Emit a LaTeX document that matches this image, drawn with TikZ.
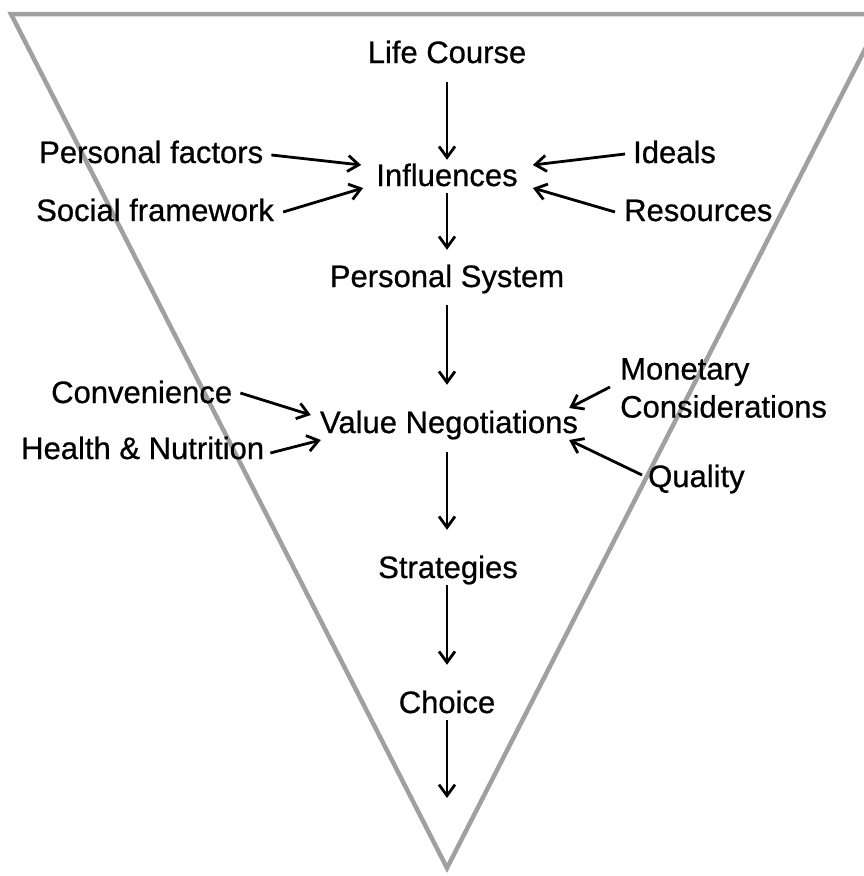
\documentclass[tikz,border=0pt]{standalone}
\usepackage{fontspec}
\setmainfont{Liberation Sans}
\newfontfamily\lblfont{Liberation Sans}[FakeBold=0.7]
\usetikzlibrary{arrows.meta}
\definecolor{trigray}{RGB}{160,160,160}
\tikzset{
  lbl/.style={inner sep=0pt, text height=23pt, text depth=7pt, font=\lblfont\fontsize{31}{38}\selectfont},
  arr/.style={line width=2.8pt, -{Straight Barb[length=11pt,width=16pt]}},
  tri/.style={draw=trigray, line width=4.5pt, line join=miter}
}
\begin{document}
\begin{tikzpicture}[x=1pt,y=-1pt]
\useasboundingbox (0,0) rectangle (864,876);
\begin{scope}
\clip (0,0) rectangle (864,876);
\draw[tri] (11,14) -- (883,14) -- (447,868) -- cycle;
\end{scope}
% nodes
\node[lbl, anchor=base] (lc) at (447,63) {Life Course};
\node[lbl, anchor=base] (inf) at (447,186) {Influences};
\node[lbl, anchor=base west] (pf) at (39,163) {Personal factors};
\node[lbl, anchor=base west] (sf) at (36,221) {Social framework};
\node[lbl, anchor=base west] (id) at (633,163) {Ideals};
\node[lbl, anchor=base west] (rs) at (624,221) {Resources};
\node[lbl, anchor=base] (ps) at (447,287) {Personal System};
\node[lbl, anchor=base] (vn) at (449,433) {Value Negotiations};
\node[lbl, anchor=base west] (cv) at (51,403) {Convenience};
\node[lbl, anchor=base west] (hn) at (21,459) {Health \& Nutrition};
\node[inner sep=0pt, font=\lblfont\fontsize{31}{38}\selectfont, align=left, anchor=west] (mon) at (620,388) {Monetary\\Considerations};
\node[lbl, anchor=base west] (ql) at (648,487) {Quality};
\node[lbl, anchor=base] (st) at (448,578) {Strategies};
\node[lbl, anchor=base] (ch) at (447,713) {Choice};
\coordinate (out) at (447,798);
% vertical arrows
\draw[arr] ([yshift=-12pt]lc.south -| inf.center) -- ([yshift=3pt]inf.north);
\draw[arr] (inf.south) -- ([yshift=14pt]ps.north);
\draw[arr] ([yshift=-11pt]ps.south) -- ([yshift=25pt]vn.north -| ps.center);
\draw[arr] ([yshift=-12pt]vn.south -| ps.center) -- ([yshift=25pt]st.north -| ps.center);
\draw[arr] (st.south -| ps.center) -- ([yshift=25pt]ch.north);
\draw[arr] (ch.south) -- (out);
% side arrows into Influences
\draw[arr] ([xshift=8pt]pf.east) -- ([xshift=-15pt,yshift=13pt]inf.west);
\draw[arr] ([xshift=9pt,yshift=1pt]sf.east) -- ([xshift=-13pt,yshift=-10pt]inf.west);
\draw[arr] ([xshift=-8pt,yshift=1pt]id.west) -- ([xshift=15pt,yshift=13pt]inf.east);
\draw[arr] ([xshift=-9pt,yshift=1pt]rs.west) -- ([xshift=15pt,yshift=-10pt]inf.east);
% side arrows into Value Negotiations
\draw[arr] ([xshift=8pt,yshift=2pt]cv.east) -- ([xshift=-9pt,yshift=10pt]vn.west);
\draw[arr] ([xshift=6pt,yshift=-2pt]hn.east) -- ([xshift=1pt,yshift=-15pt]vn.west);
\draw[arr] ([xshift=-10pt,yshift=1pt]mon.west) -- ([xshift=-9pt,yshift=17pt]vn.east);
\draw[arr] ([xshift=-6pt,yshift=4pt]ql.west) -- ([xshift=-9pt,yshift=-15pt]vn.east);
\end{tikzpicture}
\end{document}
